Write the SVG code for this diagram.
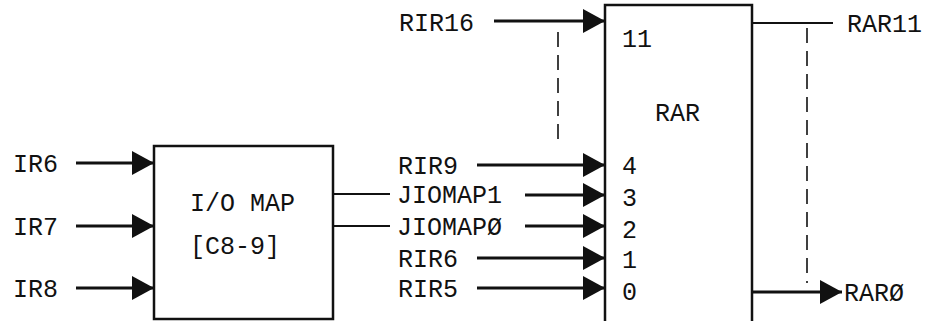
<svg xmlns="http://www.w3.org/2000/svg" width="935" height="321" viewBox="0 0 935 321">
<style>
text{font-family:"Liberation Mono","DejaVu Sans Mono",monospace;font-size:25px;fill:#111}
.box{fill:#fff;stroke:#111;stroke-width:2.5}
.w{stroke:#111;stroke-width:3;fill:none}
.t{stroke:#111;stroke-width:2;fill:none}
.d{stroke:#111;stroke-width:1.6;fill:none;stroke-dasharray:15 8}
</style>
<defs>
<marker id="ah" viewBox="0 0 22 24" refX="22" refY="12" markerWidth="22" markerHeight="24" markerUnits="userSpaceOnUse" orient="auto">
<path d="M0,0 L22,12 L0,24 Z" fill="#111"/>
</marker>
</defs>
<g id="iomap">
<rect class="box" x="154" y="146" width="179" height="173"/>
<text x="190" y="211">I/O MAP</text>
<text x="190" y="254">[C8-9]</text>
</g>
<g id="rar">
<path class="box" d="M605,322 L605,5 L752,5 L752,322"/>
<text x="622" y="47">11</text>
<text x="655" y="121">RAR</text>
<text x="622" y="174">4</text>
<text x="622" y="206">3</text>
<text x="622" y="238">2</text>
<text x="622" y="268">1</text>
<text x="622" y="300">0</text>
</g>
<g id="labels">
<text x="13" y="172">IR6</text>
<text x="13" y="235">IR7</text>
<text x="13" y="297">IR8</text>
<text x="399" y="31">RIR16</text>
<text x="398" y="174">RIR9</text>
<text x="397" y="203">JIOMAP1</text>
<text x="397" y="235">JIOMAPØ</text>
<text x="398" y="267">RIR6</text>
<text x="398" y="297">RIR5</text>
<text x="847" y="32">RAR11</text>
<text x="844" y="301">RARØ</text>
</g>
<g id="connectors">
<line class="w" x1="76" y1="163" x2="154" y2="163" marker-end="url(#ah)"/>
<line class="w" x1="76" y1="226" x2="154" y2="226" marker-end="url(#ah)"/>
<line class="w" x1="76" y1="288" x2="154" y2="288" marker-end="url(#ah)"/>
<line class="t" x1="333" y1="194" x2="390" y2="194"/>
<line class="t" x1="333" y1="226" x2="390" y2="226"/>
<line class="w" x1="494" y1="21" x2="605" y2="21" marker-end="url(#ah)"/>
<line class="w" x1="477" y1="165" x2="605" y2="165" marker-end="url(#ah)"/>
<line class="w" x1="525" y1="195" x2="605" y2="195" marker-end="url(#ah)"/>
<line class="w" x1="525" y1="226" x2="605" y2="226" marker-end="url(#ah)"/>
<line class="w" x1="477" y1="258" x2="605" y2="258" marker-end="url(#ah)"/>
<line class="w" x1="477" y1="288" x2="605" y2="288" marker-end="url(#ah)"/>
<line class="d" x1="558" y1="32" x2="558" y2="140"/>
<line class="t" x1="752" y1="23" x2="833" y2="23"/>
<line class="d" x1="807" y1="28" x2="807" y2="283"/>
<line class="w" x1="752" y1="292" x2="842" y2="292" marker-end="url(#ah)"/>
</g>
</svg>
